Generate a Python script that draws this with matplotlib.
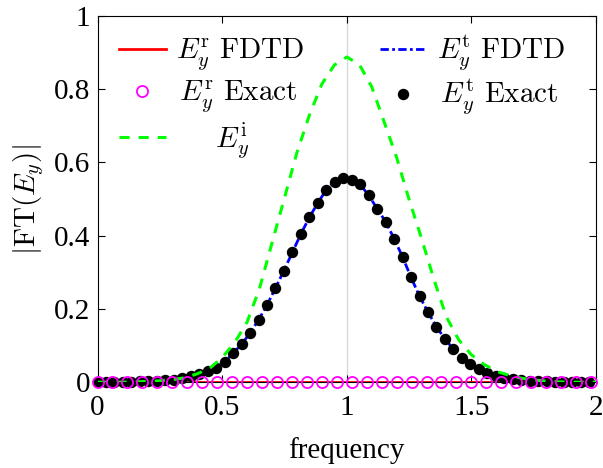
import numpy as np
from matplotlib import pyplot as plt
from matplotlib.lines import Line2D

# incident spectrum, read at 0.05 steps
freq_i = np.round(np.arange(41) * 0.05, 2)
E_inc = [0, 0, 0, 0.001, 0.002, 0.004, 0.007, 0.012, 0.023, 0.038,
         0.067, 0.108, 0.164, 0.256, 0.380, 0.503, 0.627, 0.729, 0.814, 0.866,
         0.888, 0.868, 0.807, 0.711, 0.614, 0.499, 0.393, 0.280, 0.178, 0.115,
         0.075, 0.049, 0.030, 0.019, 0.011, 0.006, 0.003, 0.001, 0, 0, 0]

# transmitted spectrum (FDTD line and exact markers share the grid)
freq_t = np.round(np.arange(59) * 0.034, 3)
E_trans = [0, 0, 0, 0.001, 0.001, 0.002, 0.003, 0.004, 0.005, 0.007,
           0.011, 0.016, 0.022, 0.030, 0.040, 0.056, 0.079, 0.104, 0.134, 0.170,
           0.211, 0.257, 0.305, 0.355, 0.405, 0.450, 0.490, 0.525, 0.548, 0.557,
           0.552, 0.540, 0.510, 0.474, 0.438, 0.392, 0.342, 0.286, 0.235, 0.191,
           0.151, 0.118, 0.090, 0.066, 0.049, 0.035, 0.025, 0.016, 0.012, 0.009,
           0.006, 0.004, 0.003, 0.002, 0.001, 0.001, 0, 0, 0]

# reflected spectrum is zero everywhere
E_refl_fdtd = [0.0] * len(freq_i)
freq_r = np.round(np.arange(34) * 0.06, 2)
E_refl_exact = [0.0] * len(freq_r)

plt.rcParams['font.family'] = 'Liberation Serif'
plt.rcParams['mathtext.fontset'] = 'cm'
plt.rcParams['font.size'] = 21

green_dash = (3.3, 2.95)
blue_dash = (3, 1.2, 1, 1.2)

fig = plt.figure(figsize=(6.03, 4.68), dpi=100)
ax = fig.add_axes([0.1617, 0.1833, 0.8267, 0.7825])

ax.axvline(1, color='#d9d9d9', lw=1, zorder=1)

ax.plot(freq_i, E_refl_fdtd, color='red', lw=2, zorder=2)
ax.plot(freq_t, E_trans, color='blue', lw=2, dashes=blue_dash, zorder=2)
ax.plot(freq_t, E_trans, 'o', color='black', ms=7.2, zorder=3, clip_on=False)
ax.plot(freq_i, E_inc, color='#00ff00', lw=2.2, dashes=green_dash, zorder=4)
ax.plot(freq_r, E_refl_exact, 'o', mfc='none', mec='#ff00ff', mew=1.3, ms=8,
        zorder=5, clip_on=False)

handles = [
    Line2D([], [], color='red', lw=2),
    Line2D([], [], ls='none', marker='o', mfc='none', mec='#ff00ff', mew=1.3, ms=8),
    Line2D([], [], color='#00ff00', lw=2.2, dashes=green_dash),
    Line2D([], [], color='blue', lw=2, dashes=blue_dash),
    Line2D([], [], ls='none', marker='o', color='black', ms=7.2),
]
labels = [
    r'$E_y^{\rm r}\ \mathrm{FDTD}$',
    r'$\hspace{0.15}E_y^{\rm r}\ \mathrm{Exact}$',
    r'$\hspace{1.55}E_y^{\rm i}$',
    r'$E_y^{\rm t}\ \mathrm{FDTD}$',
    r'$\hspace{0.15}E_y^{\rm t}\ \mathrm{Exact}$',
]
ax.legend(handles, labels, ncol=2, frameon=False, loc='upper left',
          bbox_to_anchor=(0.008, 1.0), borderaxespad=0.2, handlelength=1.6,
          handletextpad=0.35, columnspacing=2.6, labelspacing=0.2)

ax.set_xlim(0, 2)
ax.set_ylim(0, 1)
ax.set_xticks([0, 0.5, 1, 1.5, 2])
ax.set_xticklabels(['0', '0.5', '1', '1.5', '2'])
ax.set_yticks([0, 0.2, 0.4, 0.6, 0.8, 1])
ax.set_yticklabels(['0', '0.2', '0.4', '0.6', '0.8', '1'])
ax.tick_params(direction='in', top=True, right=True, length=5, width=0.8)
ax.tick_params(axis='x', pad=9)
ax.tick_params(axis='y', pad=5)
for s in ax.spines.values():
    s.set_linewidth(0.8)

ax.set_xlabel('frequency', labelpad=12)
ax.set_ylabel(r'$|\mathrm{FT}(E_y)|$', labelpad=6)

plt.savefig('out.png', dpi=100)
